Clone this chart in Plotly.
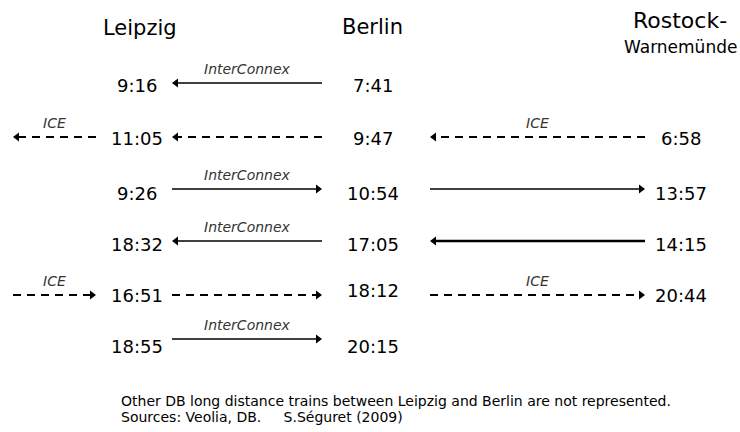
import plotly.graph_objects as go

# ---------------- data ----------------
stations = ["Leipzig", "Berlin", "Rostock-"]
station_sub = ["", "", "Warnemünde"]
leipzig_times = ["9:16", "11:05", "9:26", "18:32", "16:51", "18:55"]
berlin_times = ["7:41", "9:47", "10:54", "17:05", "18:12", "20:15"]
rostock_times = ["", "6:58", "13:57", "14:15", "20:44", ""]

# train legs: row, gap between stations, direction, service, labelled?
leg_row = [0, 1, 1, 1, 2, 2, 3, 3, 4, 4, 4, 5]
leg_gap = ["LB", "pre", "LB", "BR", "LB", "BR", "LB", "BR", "pre", "LB", "BR", "LB"]
leg_dir = ["W", "W", "W", "W", "E", "E", "W", "W", "E", "E", "E", "E"]
leg_service = ["InterConnex", "ICE", "ICE", "ICE", "InterConnex", "InterConnex",
               "InterConnex", "InterConnex", "ICE", "ICE", "ICE", "InterConnex"]
leg_labelled = [True, True, False, True, True, False, True, False, True, False, True, True]

footer_lines = ["Other DB long distance trains between Leipzig and Berlin are not represented.",
                "Sources: Veolia, DB.     S.Séguret (2009)"]

# ---------------- layout constants ----------------
W, H = 740, 432
COL_X = [137, 373, 681]
HEAD_X = [140, 372, 680]
ROW_LINE_Y = [83, 137, 189, 241, 295, 339]
ROW_TEXT_Y = [85, 138, 193, 244, 295, 346]
GAP_X = {"pre": (13, 96), "LB": (172, 322), "BR": (430, 645)}
FONT = "DejaVu Sans"

fig = go.Figure()

# legs
for r, g, d, s, lab in zip(leg_row, leg_gap, leg_dir, leg_service, leg_labelled):
    x0, x1 = GAP_X[g]
    y = ROW_LINE_Y[r]
    dash = "8px,6px" if s == "ICE" else "solid"
    lw = 2.6 if (g == "BR" and s == "InterConnex" and d == "W") else (2 if s == "ICE" else 1.6)
    if d == "W":
        tail, tip = x1, x0
        sym = "triangle-left"
        head = tip + 4
    else:
        tail, tip = x0, x1
        sym = "triangle-right"
        head = tip - 4
    fig.add_trace(go.Scatter(x=[tail, head], y=[y, y], mode="lines",
                             line=dict(color="black", width=lw, dash=dash),
                             hoverinfo="skip", showlegend=False))
    fig.add_trace(go.Scatter(x=[head], y=[y], mode="markers",
                             marker=dict(symbol=sym, size=8, color="black", line=dict(width=0)),
                             hoverinfo="skip", showlegend=False))
    if lab:
        fig.add_annotation(x=(x0 + x1) / 2, y=y - 14, text=s, showarrow=False,
                           font=dict(family=FONT, size=14, color="#333333", style="italic"),
                           xanchor="center", yanchor="middle")

# times
for ci, times in enumerate([leipzig_times, berlin_times, rostock_times]):
    for r, t in enumerate(times):
        if not t:
            continue
        yy = ROW_TEXT_Y[r]
        if ci == 1 and r == 4:
            yy -= 5
        fig.add_annotation(x=COL_X[ci], y=yy, text=t, showarrow=False,
                           font=dict(family=FONT, size=18, color="black"),
                           xanchor="center", yanchor="middle")

# station headers
fig.add_annotation(x=HEAD_X[0], y=28, text=stations[0], showarrow=False,
                   font=dict(family=FONT, size=21, color="black"), xanchor="center", yanchor="middle")
fig.add_annotation(x=HEAD_X[1], y=27, text=stations[1], showarrow=False,
                   font=dict(family=FONT, size=21, color="black"), xanchor="center", yanchor="middle")
fig.add_annotation(x=HEAD_X[2], y=20, text=stations[2], showarrow=False,
                   font=dict(family=FONT, size=22, color="black"), xanchor="center", yanchor="middle")
fig.add_annotation(x=HEAD_X[2], y=47, text=station_sub[2], showarrow=False,
                   font=dict(family=FONT, size=17, color="black"), xanchor="center", yanchor="middle")

# footer
for i, line in enumerate(footer_lines):
    fig.add_annotation(x=119, y=401 + 16 * i, text=line, showarrow=False,
                       font=dict(family=FONT, size=14, color="black"),
                       xanchor="left", yanchor="middle")

fig.update_layout(
    width=W, height=H, margin=dict(l=0, r=0, t=0, b=0),
    paper_bgcolor="white", plot_bgcolor="white",
    xaxis=dict(range=[0, W], visible=False, fixedrange=True),
    yaxis=dict(range=[H, 0], visible=False, fixedrange=True),
    showlegend=False,
)

fig.write_html("out.html", config={"displayModeBar": False},
               post_script="document.body.style.margin='0';document.body.style.overflow='hidden';")
